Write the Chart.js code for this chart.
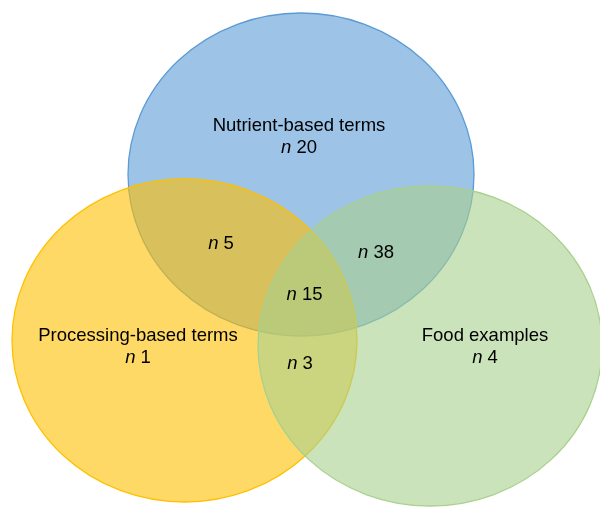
<!DOCTYPE html>
<html>
<head>
<meta charset="utf-8">
<script src="https://cdn.jsdelivr.net/npm/chart.js@4"></script>
<style>
  html, body { margin: 0; padding: 0; background: #fff; }
  #wrap { width: 600px; height: 507px; }
</style>
</head>
<body>
<div id="wrap"><canvas id="venn" width="600" height="507"></canvas></div>
<script>
// sets of the diagram: blue, yellow, green
const setNames = ["Nutrient-based terms", "Processing-based terms", "Food examples"];
const setCenterX = [301, 184.5, 430];
const setCenterY = [174.5, 340.5, 346];
const setRadiusX = [173, 172.5, 172];
const setRadiusY = [161.5, 161.5, 160];

// counts per region
const regionTitles = ["Nutrient-based terms", "Processing-based terms", "Food examples", "", "", "", ""];
const regionCounts = [20, 1, 4, 5, 38, 3, 15];
const regionX = [299, 138, 485, 221, 376, 300, 304.5];
const regionY = [153, 363, 363, 249, 258, 369, 300];

const fills = ["rgba(91,155,213,0.6)", "rgba(255,192,0,0.6)", "rgba(169,209,142,0.6)"];
const strokes = ["#5B9BD5", "#FFC000", "#A9D18E"];

const vennPlugin = {
  id: "vennEllipses",
  beforeDatasetsDraw(chart) {
    const c = chart.ctx;
    const xs = chart.scales.x;
    const ys = chart.scales.y;
    chart.data.datasets.forEach((ds, i) => {
      const p = ds.data[0];
      const px = xs.getPixelForValue(p.x);
      const py = ys.getPixelForValue(p.y);
      const rx = Math.abs(xs.getPixelForValue(p.x + p.rx) - px);
      const ry = Math.abs(ys.getPixelForValue(p.y + p.ry) - py);
      c.save();
      c.beginPath();
      c.ellipse(px, py, rx, ry, 0, 0, Math.PI * 2);
      c.fillStyle = fills[i];
      c.fill();
      c.lineWidth = 1.3;
      c.strokeStyle = strokes[i];
      c.stroke();
      c.restore();
    });
  },
  afterDatasetsDraw(chart) {
    const c = chart.ctx;
    const xs = chart.scales.x;
    const ys = chart.scales.y;
    const size = 18.5;
    c.save();
    c.fillStyle = "#000";
    c.textBaseline = "alphabetic";
    regionCounts.forEach((n, i) => {
      const px = xs.getPixelForValue(regionX[i]);
      const py = ys.getPixelForValue(regionY[i]);
      if (regionTitles[i]) {
        c.font = size + "px 'Liberation Sans', Arial, sans-serif";
        c.textAlign = "center";
        c.fillText(regionTitles[i], px, py - 22.5);
      }
      // "n" italic + count upright
      c.font = "italic " + size + "px 'Liberation Sans', Arial, sans-serif";
      const w1 = c.measureText("n").width;
      c.font = size + "px 'Liberation Sans', Arial, sans-serif";
      const rest = " " + n;
      const w2 = c.measureText(rest).width;
      const left = px - (w1 + w2) / 2;
      c.textAlign = "left";
      c.font = "italic " + size + "px 'Liberation Sans', Arial, sans-serif";
      c.fillText("n", left, py);
      c.font = size + "px 'Liberation Sans', Arial, sans-serif";
      c.fillText(rest, left + w1, py);
    });
    c.restore();
  }
};

new Chart(document.getElementById("venn"), {
  type: "scatter",
  data: {
    datasets: setNames.map((name, i) => ({
      label: name,
      data: [{ x: setCenterX[i], y: setCenterY[i], rx: setRadiusX[i], ry: setRadiusY[i] }],
      pointRadius: 0,
      pointHoverRadius: 0
    }))
  },
  options: {
    responsive: false,
    animation: false,
    layout: { padding: 0 },
    plugins: { legend: { display: false }, tooltip: { enabled: false } },
    scales: {
      x: { type: "linear", min: 0, max: 600, display: false },
      y: { type: "linear", min: 0, max: 507, reverse: true, display: false }
    }
  },
  plugins: [vennPlugin]
});
</script>
</body>
</html>
